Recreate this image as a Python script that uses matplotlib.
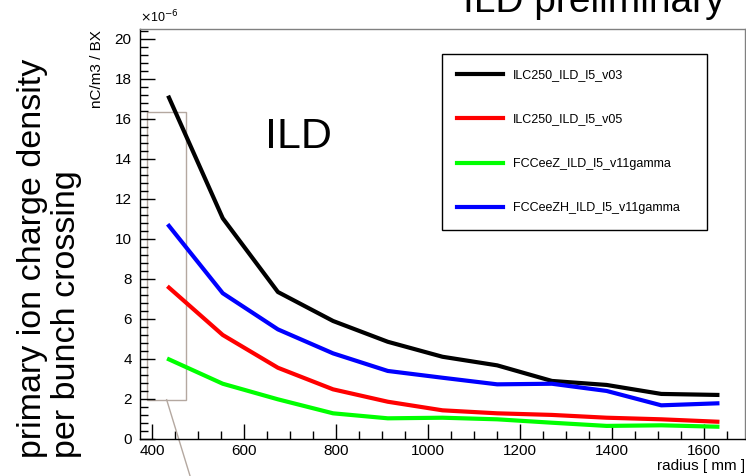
import matplotlib
matplotlib.use("Agg")
import matplotlib.pyplot as plt
from matplotlib.ticker import MultipleLocator
from matplotlib.patches import Rectangle

plt.rcParams['font.family'] = ['Liberation Sans', 'DejaVu Sans']

# radius points (mm)
radius = [436, 553, 673, 793, 912, 1031, 1150, 1269, 1388, 1507, 1629]

# charge density, units of 1e-6 nC/m3 / BX
ilc250_v03 = [17.07, 11.03, 7.34, 5.89, 4.85, 4.10, 3.67, 2.89, 2.69, 2.24, 2.19]
ilc250_v05 = [7.56, 5.19, 3.55, 2.47, 1.85, 1.42, 1.27, 1.19, 1.05, 0.97, 0.85]
fccz_v11 = [3.97, 2.75, 1.97, 1.27, 1.02, 1.05, 0.97, 0.80, 0.64, 0.67, 0.60]
fcczh_v11 = [10.65, 7.28, 5.47, 4.27, 3.39, 3.05, 2.72, 2.75, 2.39, 1.67, 1.77]

series = [
    ("ILC250_ILD_l5_v03", ilc250_v03, "black"),
    ("ILC250_ILD_l5_v05", ilc250_v05, "#ff0000"),
    ("FCCeeZ_ILD_l5_v11gamma", fccz_v11, "#00ff00"),
    ("FCCeeZH_ILD_l5_v11gamma", fcczh_v11, "#0000ff"),
]

W, H = 746, 476
fig = plt.figure(figsize=(W / 100, H / 100), dpi=100)
ax = fig.add_axes([140 / W, (H - 438.7) / H, (744.5 - 140) / W, (438.7 - 29) / H])

for name, vals, col in series:
    ax.plot(radius, vals, color=col, lw=3, label=name, solid_joinstyle='round')

ax.set_xlim(373, 1688)
ax.set_ylim(0, 20.5)

# ROOT-like ticks
ax.xaxis.set_major_locator(MultipleLocator(200))
ax.xaxis.set_minor_locator(MultipleLocator(50))
ax.yaxis.set_major_locator(MultipleLocator(2))
ax.yaxis.set_minor_locator(MultipleLocator(0.4))
ax.tick_params(which='both', direction='in', top=False, right=False, labelsize=11, width=1)
ax.tick_params(which='major', length=11)
ax.tick_params(which='minor', length=6)
ax.tick_params(axis='y', pad=6)
ax.tick_params(axis='x', pad=4)
for s in ['top', 'right']:
    ax.spines[s].set_color('#808080')
for s in ax.spines.values():
    s.set_linewidth(1)

# zoom box
box_col = '#b4a8a0'
ax.add_patch(Rectangle((389, 1.95), 84, 14.42, fill=False, ec=box_col, lw=1, zorder=1))
ax.plot([431, 497], [1.95, -3.0], color=box_col, lw=1, clip_on=False)

leg = ax.legend(loc='upper left', bbox_to_anchor=(442 / W, (H - 54) / H, 265 / W, 0.0),
                bbox_transform=fig.transFigure, mode='expand', borderaxespad=0,
                fontsize=9, frameon=True, fancybox=False, borderpad=1.2,
                labelspacing=2.6, handlelength=3.7, handletextpad=0.75)
leg.get_frame().set_edgecolor('black')
leg.get_frame().set_linewidth(1)
leg.get_frame().set_alpha(1)

# texts
fig.text(140 / W, (H - 22) / H, r'$\times$10$^{-6}$', fontsize=9, ha='left', va='baseline')
fig.text(90 / W, (H - 30) / H, 'nC/m3 / BX', fontsize=11, rotation=90, ha='left', va='top')
fig.text(17 / W, (H - 458) / H, 'primary ion charge density\nper bunch crossing',
         fontsize=24.5, rotation=90, ha='left', va='bottom', multialignment='left',
         linespacing=1.12)
fig.text(725 / W, (H - 12) / H, 'ILD preliminary', fontsize=28, ha='right', va='baseline')
fig.text(265 / W, (H - 148) / H, 'ILD', fontsize=31, ha='left', va='baseline')
fig.text(745 / W, (H - 470) / H, 'radius [ mm ]', fontsize=11, ha='right', va='baseline')

fig.savefig('out.png', dpi=100)
